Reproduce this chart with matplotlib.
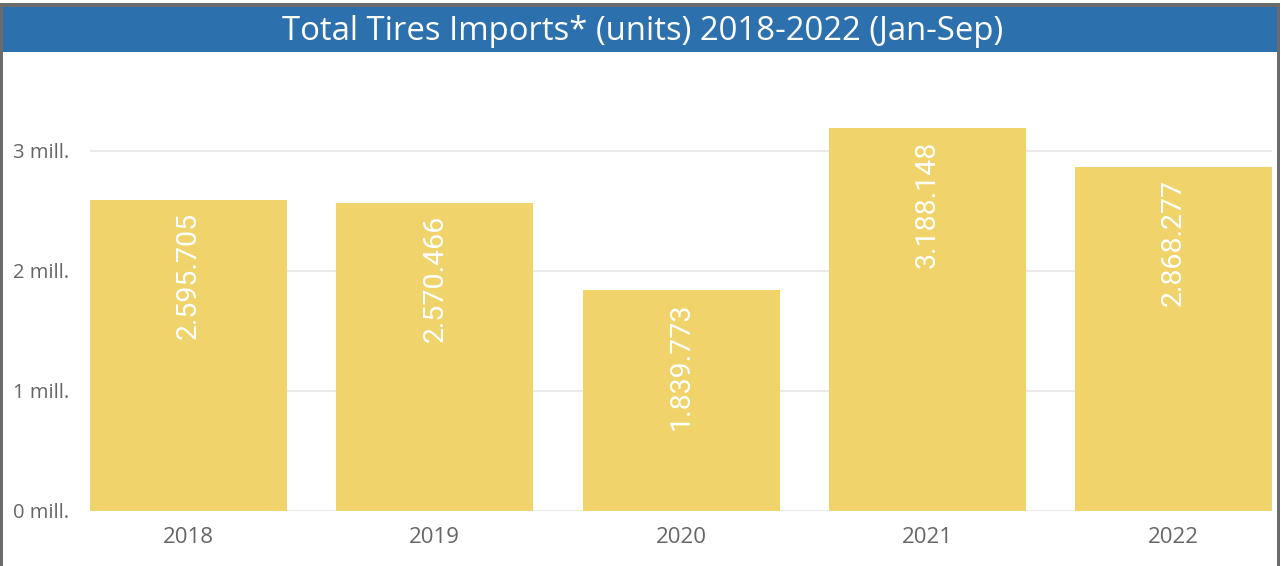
import matplotlib
matplotlib.use("Agg")
import matplotlib.pyplot as plt
from matplotlib.patches import Rectangle

years = ["2018", "2019", "2020", "2021", "2022"]
imports = [2595705, 2570466, 1839773, 3188148, 2868277]
value_labels = ["2.595.705", "2.570.466", "1.839.773", "3.188.148", "2.868.277"]
yticks = [0, 1000000, 2000000, 3000000]
ytick_labels = ["0 mill.", "1 mill.", "2 mill.", "3 mill."]
title = "Total Tires Imports* (units) 2018-2022 (Jan-Sep)"

W, H = 1281, 566
fig = plt.figure(figsize=(W / 100, H / 100), dpi=100)
fig.patch.set_facecolor("white")

def px(x0, y0, x1, y1):
    return (x0 / W, 1 - y1 / H, (x1 - x0) / W, (y1 - y0) / H)

# borders
for (x0, y0, x1, y1) in [(0, 3, 1279, 7), (0, 3, 3, 566), (1277, 3, 1280, 566)]:
    l, b, w, h = px(x0, y0, x1, y1)
    fig.patches.append(Rectangle((l, b), w, h, transform=fig.transFigure,
                                 facecolor="#6b6b6b", edgecolor="none", zorder=5))
# title bar
l, b, w, h = px(3, 7, 1277, 52)
fig.patches.append(Rectangle((l, b), w, h, transform=fig.transFigure,
                             facecolor="#2C71AE", edgecolor="none", zorder=4))
fig.text((282 + 1003) / 2 / W, 1 - 32 / H, title, color="white", fontsize=23.7,
         family="Open Sans", ha="center", va="center", zorder=6)

ax = fig.add_axes(px(90, 91, 1272, 511))
x = list(range(len(years)))
ax.bar(x, imports, width=0.8, color="#F0D36B", zorder=2)
ax.set_xlim(-0.4, len(years) - 0.6)
ax.set_ylim(0, 3.5e6)
ax.set_yticks(yticks)
ax.set_yticklabels(ytick_labels, fontsize=14.5, color="#666666", family="Open Sans")
ax.set_xticks(x)
ax.set_xticklabels(years, fontsize=16, color="#666666", family="Open Sans")
ax.tick_params(axis="y", length=0, pad=15)
ax.tick_params(axis="x", length=0, pad=11.5)
ax.grid(axis="y", color="#E6E6E6", linewidth=1.2, zorder=0)
for s in ax.spines.values():
    s.set_visible(False)

for xi, v, lab in zip(x, imports, value_labels):
    ax.annotate(lab, (xi, v), xytext=(0, -9), textcoords="offset points",
                rotation=90, ha="center", va="top", color="white",
                fontsize=20.5, family="Roboto", zorder=3)

fig.savefig("out.png", dpi=100)
